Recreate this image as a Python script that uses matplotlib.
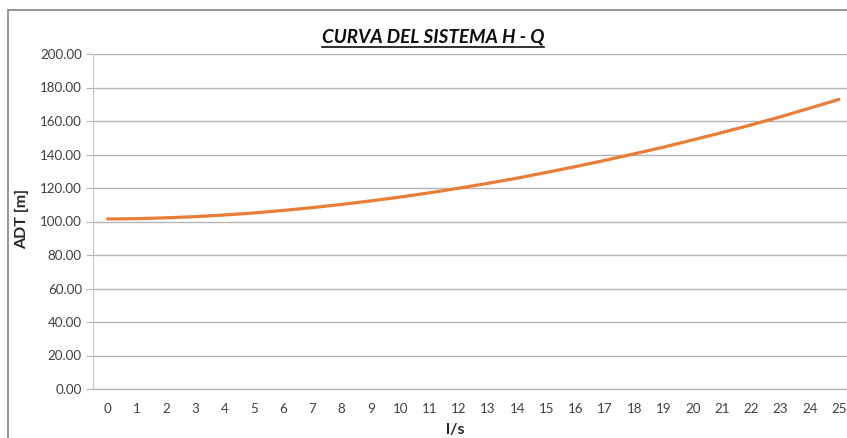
#!/usr/bin/env python3
"""Curva del sistema H - Q (ADT vs caudal)."""

import matplotlib
matplotlib.use("Agg")
import matplotlib.pyplot as plt
from matplotlib.patches import Rectangle
from matplotlib.lines import Line2D
from matplotlib.ticker import FormatStrFormatter

# Datos
caudal_ls = list(range(0, 26))
adt_m = [101.5, 101.7, 102.2, 102.9, 103.9, 105.1, 106.6, 108.3, 110.2, 112.3,
         114.6, 117.1, 119.9, 122.8, 125.9, 129.3, 132.8, 136.5, 140.4, 144.4,
         148.7, 153.1, 157.7, 162.5, 167.7, 172.9]
y_ticks = [0, 20, 40, 60, 80, 100, 120, 140, 160, 180, 200]

TITULO = "CURVA DEL SISTEMA H - Q"
FUENTE = ["Lato", "DejaVu Sans"]

W, H = 847, 438
fig = plt.figure(figsize=(W / 100, H / 100), dpi=100)
fig.patch.set_facecolor("white")

# Borde del área del gráfico (recortado a la derecha y abajo)
fig.patches.append(Rectangle((8 / W, -0.2), 1.2, 1.2 - 10 / H,
                             transform=fig.transFigure, fill=False,
                             edgecolor="#8c8c8c", linewidth=1.3))

ax = fig.add_axes([93 / W, 49 / H, (853.6 - 93) / W, (389 - 54) / H])
ax.plot(caudal_ls, adt_m, color="#E97D35", linewidth=2.3, solid_capstyle="round")

ax.set_xlim(-0.5, 25.5)
ax.set_ylim(0, 200)
ax.set_yticks(y_ticks)
ax.set_xticks(caudal_ls)
ax.yaxis.set_major_formatter(FormatStrFormatter("%.2f"))
ax.grid(axis="y", color="#b4b4b4", linewidth=1.0)
ax.set_axisbelow(True)

for side in ("top", "right"):
    ax.spines[side].set_visible(False)
ax.spines["left"].set_color("#c8c8c8")
ax.spines["bottom"].set_color("#b4b4b4")
ax.tick_params(axis="y", length=5, color="#b4b4b4", labelsize=9.6,
               labelcolor="#404040", pad=3)
ax.tick_params(axis="x", length=0, labelsize=9.6, labelcolor="#404040", pad=10)
for lbl in ax.get_xticklabels() + ax.get_yticklabels():
    lbl.set_family(FUENTE)

fig.text(22 / W, 1 - 219 / H, "ADT [m]", rotation=90, ha="center", va="center",
         fontsize=11.5, fontweight="bold", family=FUENTE, color="#262626")
fig.text(455 / W, 1 - 430 / H, "l/s", ha="center", va="center",
         fontsize=11.5, fontweight="bold", family=FUENTE, color="#262626")

titulo = fig.text(433 / W, 1 - 37 / H, TITULO, ha="center", va="center",
                  fontsize=13.6, fontweight="bold", fontstyle="italic",
                  family=FUENTE, color="#0d0d0d")

# Subrayado del título
fig.canvas.draw()
bb = titulo.get_window_extent()
y_sub = (H - 47) / H
fig.lines.append(Line2D([bb.x0 / W, bb.x1 / W], [y_sub, y_sub],
                        transform=fig.transFigure, color="#0d0d0d", linewidth=1.2))

fig.savefig("out.png", dpi=100)
plt.close(fig)
